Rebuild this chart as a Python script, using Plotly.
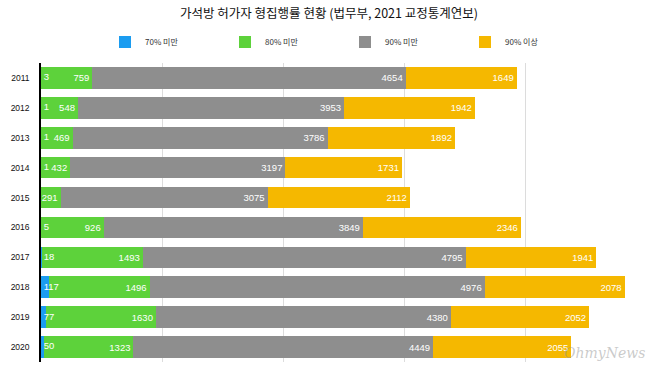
import plotly.graph_objects as go

years = ["2011", "2012", "2013", "2014", "2015", "2016", "2017", "2018", "2019", "2020"]
under70 = [3, 1, 1, 1, 0, 5, 18, 117, 77, 50]
under80 = [759, 548, 469, 432, 291, 926, 1493, 1496, 1630, 1323]
under90 = [4654, 3953, 3786, 3197, 3075, 3849, 4795, 4976, 4380, 4449]
over90 = [1649, 1942, 1892, 1731, 2112, 2346, 1941, 2078, 2052, 2055]

series_names = ["70% 미만", "80% 미만", "90% 미만", "90% 이상"]
colors = ["#1b9cf0", "#5dd23b", "#8e8e8e", "#f5b800"]

title_text = "가석방 허가자 형집행률 현황 (법무부, 2021 교정통계연보)"
num_font = "Liberation Sans, Arial, Noto Sans CJK KR, sans-serif"

fig = go.Figure()

# blue segment (labels drawn separately at the baseline)
fig.add_trace(go.Bar(
    y=years, x=under70, orientation="h", name=series_names[0],
    marker=dict(color=colors[0], line=dict(width=0)),
    hoverinfo="x+name",
))
for vals, nm, col in zip([under80, under90, over90], series_names[1:], colors[1:]):
    fig.add_trace(go.Bar(
        y=years, x=vals, orientation="h", name=nm,
        marker=dict(color=col, line=dict(width=0)),
        text=[str(v) for v in vals], textposition="inside",
        insidetextanchor="end", constraintext="none",
        textfont=dict(color="white", size=9.5, family=num_font),
        textangle=0,
    ))

# labels for the smallest category, shown at the start of each bar
fig.add_trace(go.Scatter(
    y=years, x=[0] * len(years), mode="text",
    text=[" " + str(v) if v > 0 else "" for v in under70],
    textposition="middle right",
    textfont=dict(color="white", size=9.5, family=num_font),
    showlegend=False, hoverinfo="skip",
))

fig.update_layout(
    width=658, height=367,
    barmode="stack", bargap=0.28,
    plot_bgcolor="white", paper_bgcolor="white",
    margin=dict(l=41, r=11, t=63, b=5),
    title=dict(text=title_text, x=0.5, xref="container", xanchor="center",
               y=0.962, yref="container", yanchor="middle",
               font=dict(size=12.5, color="#111111", family="Noto Sans CJK KR, sans-serif")),
    legend=dict(orientation="h", x=(105 - 41) / 606, xanchor="left",
                y=1 + (63 - 42) / 299, yanchor="middle",
                entrywidth=75, entrywidthmode="pixels",
                font=dict(size=8, color="#333333", family="Noto Sans CJK KR, sans-serif"),
                traceorder="normal", bgcolor="rgba(0,0,0,0)"),
    showlegend=True,
    font=dict(family=num_font),
)
fig.update_xaxes(range=[0, 9000], dtick=1800, showticklabels=False,
                 showgrid=True, gridcolor="#dcdcdc", gridwidth=1,
                 zeroline=False, showline=False, fixedrange=True, automargin=False)
fig.update_yaxes(autorange="reversed", showline=True, linecolor="black", linewidth=1.5,
                 ticks="", ticklabelstandoff=8, automargin=False,
                 tickfont=dict(size=8.5, color="#111111", family=num_font),
                 showgrid=False)

fig.add_annotation(text="OhmyNews", xref="paper", yref="paper", x=1.0, y=-0.005,
                   xanchor="right", yanchor="bottom", showarrow=False,
                   font=dict(size=14, color="rgba(150,150,150,0.5)",
                             family="DejaVu Serif, serif", style="italic"))

fig.write_html("out.html", config={"displayModeBar": False},
               post_script="document.body.style.margin='0';document.body.style.overflow='hidden';")
